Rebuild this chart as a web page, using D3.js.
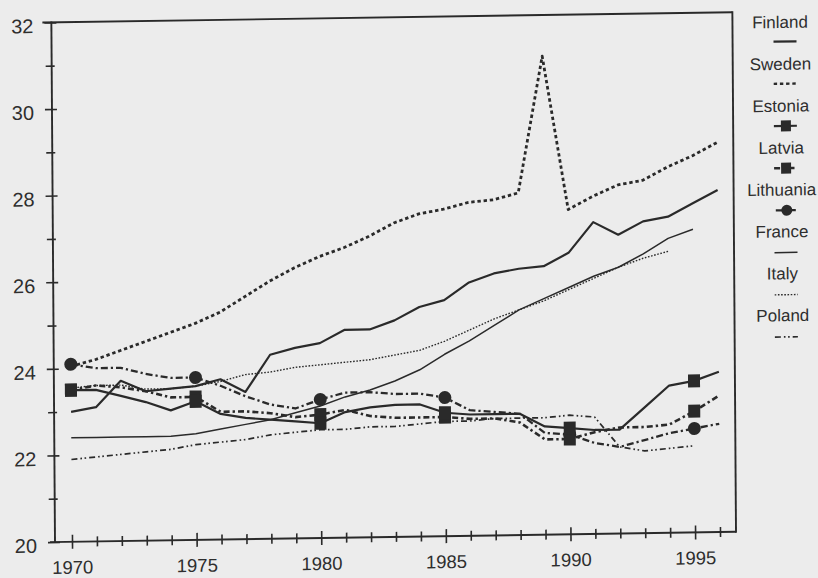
<!DOCTYPE html>
<html>
<head>
<meta charset="utf-8">
<script src="https://cdn.jsdelivr.net/npm/d3@7"></script>
<style>
  html, body { margin: 0; padding: 0; background: #ececec; }
  svg { display: block; }
  text { font-family: "Liberation Sans", Arial, Helvetica, sans-serif; fill: #2e2e2e; }
</style>
</head>
<body>
<svg id="chart" width="818" height="578"></svg>
<script>
// ---------------- DATA ----------------
const years = d3.range(1970, 1997);
const finland   = [23.0, 23.1, 23.7, 23.45, 23.5, 23.55, 23.7, 23.4, 24.25, 24.4, 24.5, 24.8, 24.8, 25.0, 25.3, 25.45, 25.85, 26.05, 26.15, 26.2, 26.5, 27.2, 26.9, 27.2, 27.3, 27.6, 27.9];
const sweden    = [24.05, 24.2, 24.4, 24.6, 24.8, 25.0, 25.25, 25.6, 25.95, 26.25, 26.5, 26.7, 26.95, 27.25, 27.45, 27.55, 27.7, 27.75, 27.9, 31.05, 27.5, 27.8, 28.05, 28.15, 28.45, 28.7, 29.0];
const estonia   = [23.5, 23.5, 23.35, 23.2, 23.0, 23.2, 22.9, 22.8, 22.75, 22.7, 22.65, 22.9, 23.0, 23.05, 23.05, 22.85, 22.8, 22.8, 22.8, 22.5, 22.45, 22.4, 22.4, 22.9, 23.4, 23.5, 23.7];
const latvia    = [23.5, 23.6, 23.55, 23.45, 23.3, 23.3, 22.95, 22.95, 22.9, 22.8, 22.85, 22.95, 22.8, 22.75, 22.75, 22.75, 22.7, 22.7, 22.6, 22.2, 22.2, 22.35, 22.45, 22.45, 22.5, 22.8, 23.15];
const lithuania = [24.1, 24.0, 24.0, 23.85, 23.75, 23.75, 23.55, 23.3, 23.1, 23.0, 23.2, 23.35, 23.35, 23.3, 23.3, 23.2, 22.9, 22.85, 22.8, 22.35, 22.3, 22.1, 22.0, 22.15, 22.3, 22.4, 22.5];
const france    = [22.4, 22.4, 22.4, 22.4, 22.4, 22.45, 22.55, 22.65, 22.75, 22.9, 23.05, 23.25, 23.4, 23.6, 23.85, 24.2, 24.5, 24.85, 25.2, 25.45, 25.7, 25.95, 26.15, 26.45, 26.8, 27.0, null];
const italy     = [23.55, 23.6, 23.6, 23.5, 23.5, 23.55, 23.65, 23.8, 23.85, 23.95, 24.0, 24.05, 24.1, 24.2, 24.3, 24.5, 24.75, 25.0, 25.2, 25.4, 25.65, 25.9, 26.15, 26.35, 26.5, null, null];
const poland    = [21.9, 21.95, 22.0, 22.05, 22.1, 22.2, 22.25, 22.3, 22.4, 22.45, 22.5, 22.5, 22.55, 22.55, 22.6, 22.65, 22.65, 22.7, 22.7, 22.7, 22.75, 22.7, 22.0, 21.9, 21.95, 22.0, null];
const markerYears = [1970, 1975, 1980, 1985, 1990, 1995];
const yTickValues = d3.range(20, 33);
const yTickLabels = [20, 22, 24, 26, 28, 30, 32];
const xTickLabels = [1970, 1975, 1980, 1985, 1990, 1995];
const legendNames = ["Finland", "Sweden", "Estonia", "Latvia", "Lithuania", "France", "Italy", "Poland"];

// ---------------- STYLES ----------------
const ink = "#2a2a2a";
const seriesList = [
  {name: "Finland",   values: finland,   width: 2.2, dash: null},
  {name: "France",    values: france,    width: 1.5, dash: null},
  {name: "Italy",     values: italy,     width: 1.4, dash: "1.6,1.6"},
  {name: "Poland",    values: poland,    width: 1.7, dash: "6,3,1.6,2.6,1.6,3"},
  {name: "Sweden",    values: sweden,    width: 2.8, dash: "3.4,2.8"},
  {name: "Lithuania", values: lithuania, width: 2.3, dash: "7,3,2.2,3", marker: "circle"},
  {name: "Latvia",    values: latvia,    width: 2.6, dash: "6,3,2.4,3", marker: "square"},
  {name: "Estonia",   values: estonia,   width: 2.2, dash: null, marker: "square"},
];
const styleByName = Object.fromEntries(seriesList.map(s => [s.name, s]));

// ---------------- LAYOUT (slight scan skew) ----------------
const skewA = 0.007, skewB = -0.015, ox = 55, oy = 542;
function inv(X, Y) { // page coords -> chart coords
  let px = X, py = Y;
  for (let i = 0; i < 4; i++) { px = X - skewA * (py - oy); py = Y - skewB * (px - ox); }
  return [px, py];
}

const svg = d3.select("#chart");
svg.append("rect").attr("width", 818).attr("height", 578).attr("fill", "#ececec");
const g = svg.append("g")
  .attr("transform", `matrix(1,${skewB},${skewA},1,${-oy * skewA},${-ox * skewB})`);

const x = d3.scaleLinear().domain([1970, 1996]).range([72, 720]);
const y = d3.scaleLinear().domain([20, 32]).range([542, 22.4]);
const plotLeft = 55, plotRight = 736, plotTop = y(32), plotBottom = y(20);

// frame
const frame = g.append("g").attr("stroke", ink).attr("stroke-width", 1.9).attr("fill", "none");
frame.append("line").attr("x1", plotLeft).attr("x2", plotLeft).attr("y1", plotTop - 1).attr("y2", plotBottom);
frame.append("line").attr("x1", 46).attr("x2", plotRight).attr("y1", plotTop).attr("y2", plotTop);
frame.append("line").attr("x1", plotRight).attr("x2", plotRight).attr("y1", plotTop - 1).attr("y2", plotBottom + 1);
frame.append("line").attr("x1", 50).attr("x2", plotRight).attr("y1", plotBottom).attr("y2", plotBottom);

// x axis
const xAxis = g.append("g").attr("transform", `translate(0,${plotBottom})`)
  .call(d3.axisBottom(x).tickValues(years).tickSize(0).tickPadding(0)
    .tickFormat(d => xTickLabels.includes(d) ? d : ""));
xAxis.select(".domain").remove();
xAxis.selectAll(".tick line").attr("stroke", ink).attr("stroke-width", 1.6)
  .attr("y1", d => d % 5 === 0 ? -7 : -5).attr("y2", d => d % 5 === 0 ? 7 : 5);
xAxis.selectAll(".tick text").attr("y", 32).attr("dy", null)
  .style("font-size", "18.5px").attr("fill", "#2e2e2e");

// y axis
const yAxis = g.append("g").attr("transform", `translate(${plotLeft},0)`)
  .call(d3.axisLeft(y).tickValues(yTickValues).tickSize(0).tickPadding(0)
    .tickFormat(d => yTickLabels.includes(d) ? d : ""));
yAxis.select(".domain").remove();
yAxis.selectAll(".tick line").attr("stroke", ink).attr("stroke-width", 1.6)
  .attr("x1", d => d % 2 === 0 ? -7 : -6).attr("x2", d => d % 2 === 0 ? 5 : 3);
yAxis.selectAll(".tick text").attr("x", -18).attr("y", 3).attr("dy", "0.35em")
  .style("font-size", "20px").attr("fill", "#2e2e2e");

// lines
const line = d3.line()
  .defined(d => d.v != null)
  .x(d => x(d.year)).y(d => y(d.v));
const lines = g.append("g").attr("fill", "none").attr("stroke", ink);
seriesList.forEach(s => {
  const pts = years.map((yr, i) => ({year: yr, v: s.values[i]}));
  lines.append("path").datum(pts).attr("d", line)
    .attr("stroke-width", s.width)
    .attr("stroke-dasharray", s.dash)
    .attr("stroke-linejoin", "round");
});

// markers
const marks = g.append("g").attr("fill", ink);
seriesList.filter(s => s.marker).forEach(s => {
  markerYears.forEach(yr => {
    const v = s.values[years.indexOf(yr)];
    if (v == null) return;
    if (s.marker === "square") {
      marks.append("rect").attr("x", x(yr) - 6).attr("y", y(v) - 6.5).attr("width", 12).attr("height", 13);
    } else {
      marks.append("circle").attr("cx", x(yr)).attr("cy", y(v)).attr("r", 6.5);
    }
  });
});

// legend (positions given in page coordinates, converted through the skew)
const legend = g.append("g");
legendNames.forEach((name, i) => {
  const s = styleByName[name];
  const textPost = [780 + i * 0.4, 22 + i * 41.9];
  const symPost = [785 + i * 0.2, 41.5 + i * 42.2];
  const [tx, ty] = inv(textPost[0], textPost[1]);
  legend.append("text").attr("x", tx).attr("y", ty).attr("dy", "0.35em")
    .attr("text-anchor", "middle").style("font-size", "17px").text(name);
  const [sx, sy] = inv(symPost[0], symPost[1]);
  const half = s.marker === "circle" ? 10 : 11.5;
  legend.append("line").attr("x1", sx - half).attr("x2", sx + half).attr("y1", sy).attr("y2", sy)
    .attr("stroke", ink).attr("stroke-width", Math.min(s.width, 2.4))
    .attr("stroke-dasharray", s.dash);
  if (s.marker === "square") {
    legend.append("rect").attr("x", sx - 4.5).attr("y", sy - 5.5).attr("width", 10).attr("height", 11).attr("fill", ink);
  } else if (s.marker === "circle") {
    legend.append("circle").attr("cx", sx + 1).attr("cy", sy).attr("r", 5.5).attr("fill", ink);
  }
});
</script>
</body>
</html>
